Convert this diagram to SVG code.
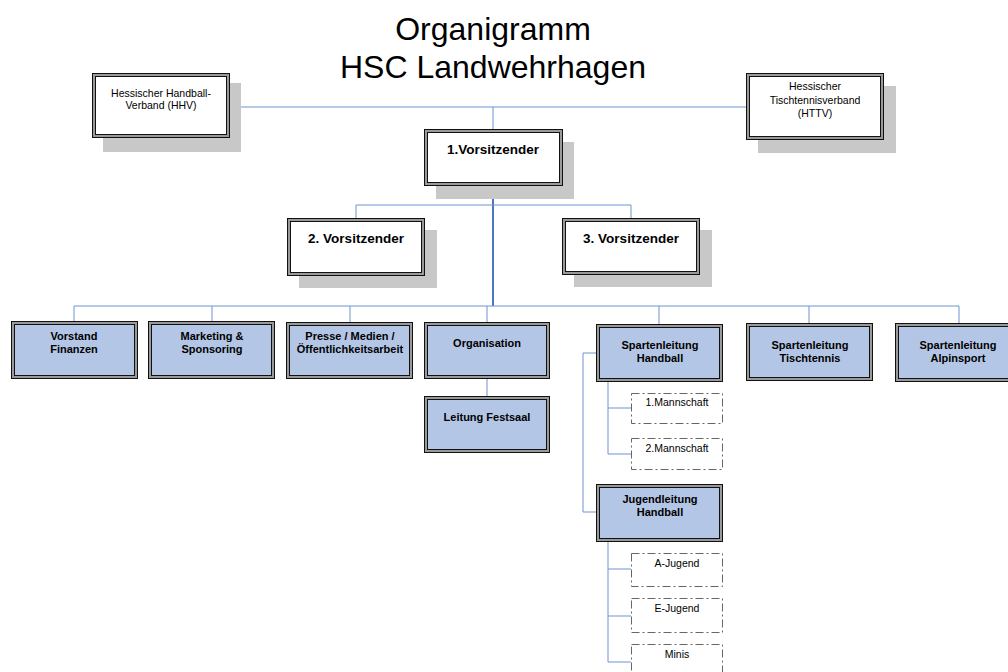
<svg xmlns="http://www.w3.org/2000/svg" width="1008" height="672" viewBox="0 0 1008 672">
<style>
text{font-family:"Liberation Sans",Arial,sans-serif;fill:#000;text-anchor:middle}
.t{font-size:32px}
.s{font-size:10.5px}
.b{font-size:11px;font-weight:bold}
.bb{font-size:13.5px;font-weight:bold}
.sh{fill:#c8c8c8}
.o{fill:#9a9a9a;stroke:#111;stroke-width:1}
.iw{fill:#fff;stroke:#111;stroke-width:1}
.ib{fill:#b3c6e6;stroke:#111;stroke-width:1}
.d{fill:#fff;stroke:#666;stroke-width:1;stroke-dasharray:8 3 2 3}
.c{fill:none;stroke:#6e93d0;stroke-width:1}
.m{fill:none;stroke:#4a76c4;stroke-width:2}
</style>
<rect width="1008" height="672" fill="#fff"/>
<g id="title">
<text class="t" x="493" y="40">Organigramm</text>
<text class="t" x="493" y="78">HSC Landwehrhagen</text>
</g>
<g id="connectors">
<path class="c" d="M229 107H746M493 107V129"/>
<path class="m" d="M493 186V306"/>
<path class="c" d="M356 218V205H631V218"/>
<path class="c" d="M74 321V306H959V323"/>
<path class="c" d="M212 306V321M350 306V322M487 306V322M659 306V324M809 306V323"/>
<path class="c" d="M487 379V396"/>
<path class="c" d="M596 353H583V512H596"/>
<path class="c" d="M608 382V454M608 408H631M608 454H631"/>
<path class="c" d="M608 542V662M608 569H631M608 616H631M608 662H631"/>
</g>
<g id="hhv">
<rect class="sh" x="103" y="83" width="138" height="69"/>
<rect class="o" x="92.5" y="73.5" width="137" height="64"/>
<rect class="iw" x="95.5" y="76.5" width="131" height="58"/>
<text class="s" x="161" y="97">Hessischer Handball-</text>
<text class="s" x="161" y="109">Verband (HHV)</text>
</g>
<g id="httv">
<rect class="sh" x="758" y="86" width="138" height="67"/>
<rect class="o" x="746.5" y="73.5" width="137" height="66"/>
<rect class="iw" x="749.5" y="76.5" width="131" height="60"/>
<text class="s" x="815" y="90">Hessischer</text>
<text class="s" x="815" y="104">Tischtennisverband</text>
<text class="s" x="815" y="117">(HTTV)</text>
</g>
<g id="v1">
<rect class="sh" x="436" y="142" width="138" height="57"/>
<rect class="o" x="424.5" y="129.5" width="138" height="56"/>
<rect class="iw" x="427.5" y="132.5" width="132" height="50"/>
<text class="bb" x="493" y="154">1.Vorsitzender</text>
</g>
<g id="v2">
<rect class="sh" x="299" y="230" width="138" height="58"/>
<rect class="o" x="287.5" y="218.5" width="137" height="57"/>
<rect class="iw" x="290.5" y="221.5" width="131" height="51"/>
<text class="bb" x="356" y="243">2. Vorsitzender</text>
</g>
<g id="v3">
<rect class="sh" x="574" y="230" width="138" height="57"/>
<rect class="o" x="562.5" y="218.5" width="137" height="56"/>
<rect class="iw" x="565.5" y="221.5" width="131" height="50"/>
<text class="bb" x="631" y="243">3. Vorsitzender</text>
</g>
<g id="finanzen">
<rect class="o" x="11.5" y="321.5" width="126" height="57"/>
<rect class="ib" x="14.5" y="324.5" width="120" height="51"/>
<text class="b" x="74" y="340">Vorstand</text>
<text class="b" x="74" y="353">Finanzen</text>
</g>
<g id="marketing">
<rect class="o" x="148.5" y="321.5" width="126" height="57"/>
<rect class="ib" x="151.5" y="324.5" width="120" height="51"/>
<text class="b" x="212" y="340">Marketing &amp;</text>
<text class="b" x="212" y="353">Sponsoring</text>
</g>
<g id="presse">
<rect class="o" x="286.5" y="322.5" width="126" height="56"/>
<rect class="ib" x="289.5" y="325.5" width="120" height="50"/>
<text class="b" x="350" y="340">Presse / Medien /</text>
<text class="b" x="350" y="353">Öffentlichkeitsarbeit</text>
</g>
<g id="organisation">
<rect class="o" x="424.5" y="322.5" width="125" height="56"/>
<rect class="ib" x="427.5" y="325.5" width="119" height="50"/>
<text class="b" x="487" y="347">Organisation</text>
</g>
<g id="festsaal">
<rect class="o" x="424.5" y="396.5" width="125" height="56"/>
<rect class="ib" x="427.5" y="399.5" width="119" height="50"/>
<text class="b" x="487" y="421">Leitung Festsaal</text>
</g>
<g id="handball">
<rect class="o" x="596.5" y="324.5" width="126" height="57"/>
<rect class="ib" x="599.5" y="327.5" width="120" height="51"/>
<text class="b" x="660" y="349">Spartenleitung</text>
<text class="b" x="660" y="362">Handball</text>
</g>
<g id="tischtennis">
<rect class="o" x="746.5" y="323.5" width="126" height="57"/>
<rect class="ib" x="749.5" y="326.5" width="120" height="51"/>
<text class="b" x="810" y="349">Spartenleitung</text>
<text class="b" x="810" y="362">Tischtennis</text>
</g>
<g id="alpinsport">
<rect class="o" x="895.5" y="323.5" width="126" height="58"/>
<rect class="ib" x="898.5" y="326.5" width="120" height="52"/>
<text class="b" x="958" y="349">Spartenleitung</text>
<text class="b" x="958" y="362">Alpinsport</text>
</g>
<g id="m1">
<rect class="d" x="631.5" y="393.5" width="91" height="30"/>
<text class="s" x="677" y="406">1.Mannschaft</text>
</g>
<g id="m2">
<rect class="d" x="631.5" y="438.5" width="91" height="31"/>
<text class="s" x="677" y="452">2.Mannschaft</text>
</g>
<g id="jugend">
<rect class="o" x="596.5" y="484.5" width="126" height="57"/>
<rect class="ib" x="599.5" y="487.5" width="120" height="51"/>
<text class="b" x="660" y="503">Jugendleitung</text>
<text class="b" x="660" y="516">Handball</text>
</g>
<g id="ajugend">
<rect class="d" x="631.5" y="553.5" width="91" height="33"/>
<text class="s" x="677" y="567">A-Jugend</text>
</g>
<g id="ejugend">
<rect class="d" x="631.5" y="598.5" width="91" height="34"/>
<text class="s" x="677" y="612">E-Jugend</text>
</g>
<g id="minis">
<rect class="d" x="631.5" y="644.5" width="91" height="34"/>
<text class="s" x="677" y="658">Minis</text>
</g>
</svg>
